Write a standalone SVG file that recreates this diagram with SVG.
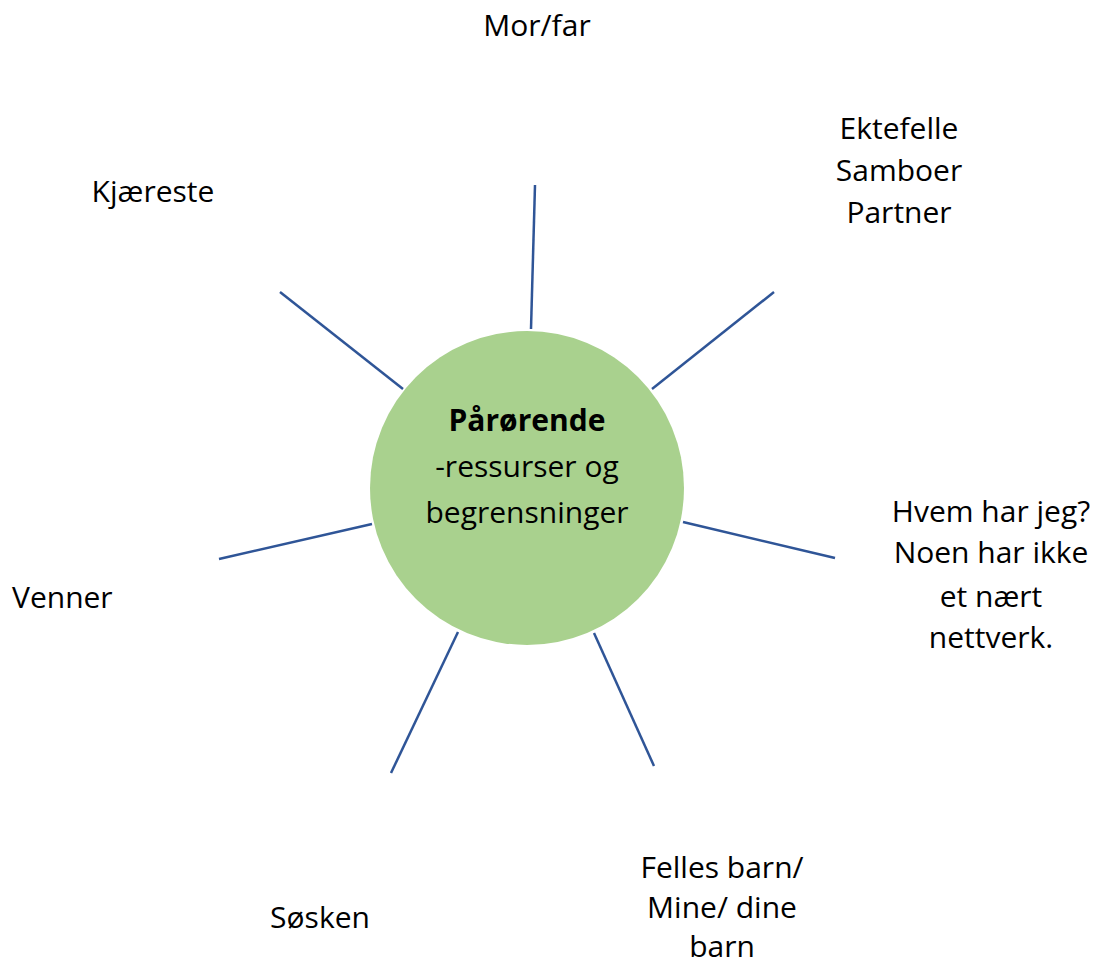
<svg xmlns="http://www.w3.org/2000/svg" width="1099" height="968" viewBox="0 0 1099 968">
<style>
.t{font-family:"Open Sans","Liberation Sans",sans-serif;font-size:30px;fill:#000;text-anchor:middle}
.b{font-weight:bold}
.c{stroke:#2F5597;stroke-width:2.5;fill:none}
</style>
<rect width="1099" height="968" fill="#fff"/>
<g id="connectors">
<line class="c" x1="535" y1="185" x2="531" y2="329"/>
<line class="c" x1="774" y1="292" x2="652" y2="389"/>
<line class="c" x1="280" y1="292" x2="403" y2="389"/>
<line class="c" x1="219" y1="559" x2="372" y2="524"/>
<line class="c" x1="683" y1="522" x2="835" y2="558"/>
<line class="c" x1="458" y1="632" x2="391" y2="773"/>
<line class="c" x1="594" y1="633" x2="654" y2="766"/>
</g>
<g id="center">
<circle cx="527" cy="488" r="157" fill="#A9D18E"/>
<text class="t b" x="527" y="431">Pårørende</text>
<text class="t" x="527" y="477">-ressurser og</text>
<text class="t" x="527" y="523">begrensninger</text>
</g>
<g id="morfar"><text class="t" x="537" y="36">Mor/far</text></g>
<g id="ektefelle">
<text class="t" x="899" y="139">Ektefelle</text>
<text class="t" x="899" y="181">Samboer</text>
<text class="t" x="899" y="223">Partner</text>
</g>
<g id="kjaereste"><text class="t" x="153" y="202">Kjæreste</text></g>
<g id="hvem">
<text class="t" x="991" y="522">Hvem har jeg?</text>
<text class="t" x="991" y="563">Noen har ikke</text>
<text class="t" x="991" y="607">et nært</text>
<text class="t" x="991" y="648">nettverk.</text>
</g>
<g id="venner"><text class="t" x="12" y="608" style="text-anchor:start">Venner</text></g>
<g id="sosken"><text class="t" x="320" y="928">Søsken</text></g>
<g id="barn">
<text class="t" x="722" y="878">Felles barn/</text>
<text class="t" x="722" y="918">Mine/ dine</text>
<text class="t" x="722" y="957">barn</text>
</g>
</svg>
